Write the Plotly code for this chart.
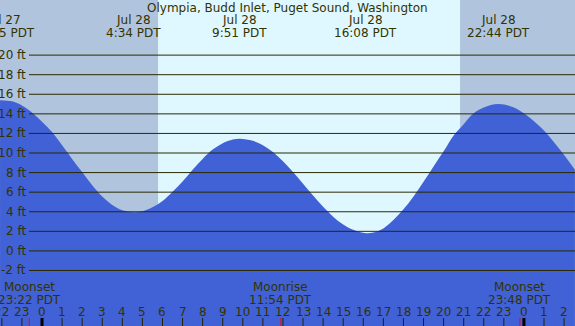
import plotly.graph_objects as go

TITLE = "Olympia, Budd Inlet, Puget Sound, Washington"

# Tide curve: hours since Jul 28 00:00 PDT, height in ft
hours = [-2.09, -1.5, -1.0, -0.5, 0, 0.5, 1.0, 1.5, 2.0, 2.5,
         3.0, 3.5, 4.0, 4.57, 5.0, 5.5, 6.0, 6.5, 7.0, 7.5,
         8.0, 8.5, 9.0, 9.5, 9.86, 10.5, 11.0, 11.5, 12.0, 12.5,
         13.0, 13.5, 14.0, 14.5, 15.0, 15.5, 16.13, 16.5, 17.0, 17.5,
         18.0, 18.5, 19.0, 19.5, 20.0, 20.5, 21.0, 21.5, 22.0, 22.73,
         23.5, 24.0, 24.5, 25.0, 25.5, 26.0, 26.54]
heights = [15.39, 15.28, 14.86, 14.15, 13.2, 12.15, 10.8, 9.4, 8.05, 6.7,
           5.55, 4.7, 4.15, 3.94, 4.05, 4.45, 5.1, 6.05, 7.1, 8.3,
           9.4, 10.35, 11.0, 11.38, 11.46, 11.25, 10.8, 10.1, 9.15, 8.05,
           6.85, 5.65, 4.5, 3.5, 2.7, 2.15, 1.8, 1.88, 2.3, 3.15,
           4.25, 5.57, 7.06, 8.62, 10.17, 11.8, 12.95, 14.05, 14.65, 15.0,
           14.65, 14.05, 13.25, 12.3, 11.1, 9.8, 8.3]

# High / low tide labels
tide_times = [-1.917, 4.567, 9.85, 16.133, 22.733]
tide_dates = ["Jul 27", "Jul 28", "Jul 28", "Jul 28", "Jul 28"]
tide_clock = ["22:05 PDT", "4:34 PDT", "9:51 PDT", "16:08 PDT", "22:44 PDT"]

# Moon events
moon_times = [-0.633, 11.9, 23.8]
moon_names = ["Moonset", "Moonrise", "Moonset"]
moon_clock = ["23:22 PDT", "11:54 PDT", "23:48 PDT"]

# Sun
sunrise = 5.78
sunset = 20.82

# Axis ticks
y_ticks = [-2, 0, 2, 4, 6, 8, 10, 12, 14, 16, 18, 20]
y_labels = [f"{v} ft" for v in y_ticks]
hour_ticks = list(range(-2, 27))
hour_labels = [str(h % 24) for h in hour_ticks]
midnights = [0, 24]

X_RANGE = [-2.092, 26.544]
Y_RANGE = [-7.67, 25.63]

W, H = 575, 326
TXT = "#333300"
NIGHT = "#b0c4de"
DAY = "#dff8ff"
WATER = "#4161d6"
FONT = "DejaVu Sans"


def txt(text, x, y, xref="x", yref="paper", xanchor="center"):
    return dict(text=text, xref=xref, yref=yref, x=x, y=y, xanchor=xanchor,
                yanchor="middle", showarrow=False,
                font=dict(family=FONT, size=12, color=TXT))


fig = go.Figure()
fig.add_trace(go.Scatter(x=hours, y=[Y_RANGE[0]] * len(hours), mode="lines",
                         line=dict(width=0), hoverinfo="skip", showlegend=False))
fig.add_trace(go.Scatter(x=hours, y=heights, mode="lines", fill="tonexty",
                         fillcolor=WATER,
                         line=dict(color=WATER, width=0, shape="spline", smoothing=1),
                         hoverinfo="skip", showlegend=False))

shapes = []
shapes.append(dict(type="rect", xref="x", yref="paper", x0=sunrise, x1=sunset,
                   y0=0, y1=1, fillcolor=DAY, line=dict(width=0), layer="below"))
for v in y_ticks:
    shapes.append(dict(type="line", xref="paper", yref="y", x0=29 / W, x1=1,
                       y0=v, y1=v, line=dict(color="#2a2a00", width=1), layer="above"))
for h in hour_ticks:
    shapes.append(dict(type="line", xref="x", yref="paper", x0=h, x1=h,
                       y0=0, y1=8 / H, line=dict(color="#222200", width=1)))
for m in midnights:
    shapes.append(dict(type="line", xref="x", yref="paper", x0=m, x1=m,
                       y0=0, y1=8 / H, line=dict(color="#000000", width=3)))
for t in moon_times:
    shapes.append(dict(type="line", xref="x", yref="paper", x0=t, x1=t,
                       y0=0, y1=8 / H, line=dict(color="#ff0000", width=1)))

ann = [txt(TITLE, 0.5, 1 - 8 / H, xref="paper")]
for t, d, c in zip(tide_times, tide_dates, tide_clock):
    ann.append(txt(d, t, 1 - 20 / H))
    ann.append(txt(c, t, 1 - 33 / H))
for t, n, c in zip(moon_times, moon_names, moon_clock):
    ann.append(txt(n, t, 1 - 287.3 / H))
    ann.append(txt(c, t, 1 - 299.5 / H))
for h, lab in zip(hour_ticks, hour_labels):
    ann.append(txt(lab, h, 1 - 311.7 / H))
for v, lab in zip(y_ticks, y_labels):
    ann.append(txt(lab, 27.5 / W, v, xref="paper", yref="y", xanchor="right"))

fig.update_layout(
    width=W, height=H, margin=dict(l=0, r=0, t=0, b=0),
    paper_bgcolor=NIGHT, plot_bgcolor=NIGHT,
    shapes=shapes, annotations=ann, showlegend=False,
    xaxis=dict(range=X_RANGE, showgrid=False, zeroline=False, showline=False,
               showticklabels=False, ticks="", fixedrange=True),
    yaxis=dict(range=Y_RANGE, showgrid=False, zeroline=False, showline=False,
               showticklabels=False, ticks="", fixedrange=True),
)

fig.write_html("out.html", config={"displayModeBar": False},
               post_script="document.body.style.margin='0px';document.body.style.overflow='hidden';")
